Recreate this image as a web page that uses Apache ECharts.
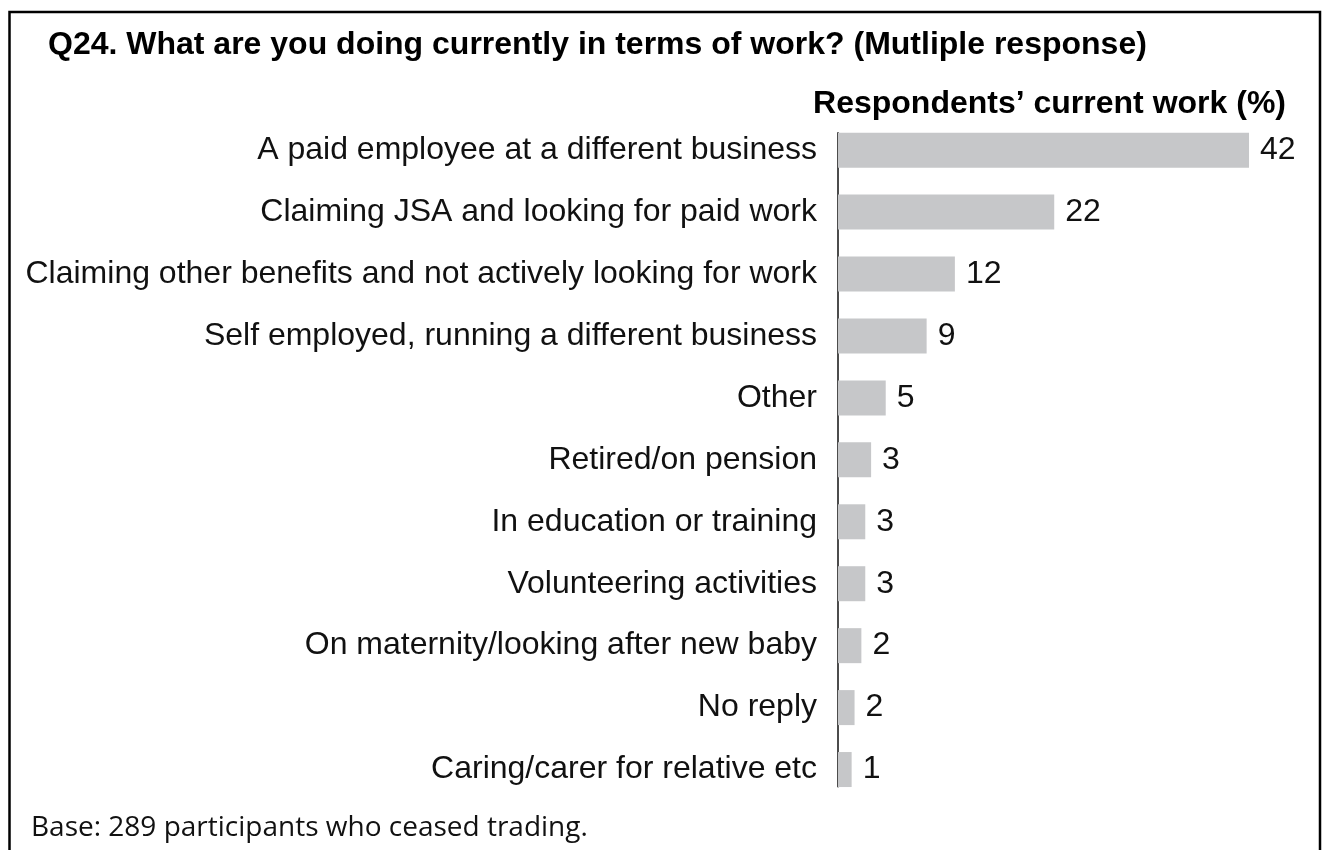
<!DOCTYPE html>
<html>
<head>
<meta charset="utf-8">
<script src="https://cdn.jsdelivr.net/npm/echarts@6/dist/echarts.min.js"></script>
<style>
html,body{margin:0;padding:0;background:#fff;}
#chart{width:1322px;height:850px;}
</style>
</head>
<body>
<div id="chart"></div>
<script>
const titleText = 'Q24. What are you doing currently in terms of work? (Mutliple response)';
const subtitleText = 'Respondents\u2019 current work (%)';
const footerText = 'Base: 289 participants who ceased trading.';
const categories = [
  'A paid employee at a different business',
  'Claiming JSA and looking for paid work',
  'Claiming other benefits and not actively looking for work',
  'Self employed, running a different business',
  'Other',
  'Retired/on pension',
  'In education or training',
  'Volunteering activities',
  'On maternity/looking after new baby',
  'No reply',
  'Caring/carer for relative etc'
];
const values = [42.2, 22.2, 12.0, 9.1, 4.9, 3.4, 2.8, 2.8, 2.4, 1.7, 1.4];

const chart = echarts.init(document.getElementById('chart'), null, {renderer: 'canvas'});
const sans = '"Liberation Sans", Arial, sans-serif';
chart.setOption({
  animation: false,
  backgroundColor: '#fff',
  graphic: [{
    type: 'rect', silent: true,
    shape: {x: 9.5, y: 12, width: 1310.5, height: 1000},
    style: {fill: 'none', stroke: '#000', lineWidth: 2.5}
  }],
  title: [
    {text: titleText, left: 48, top: 29, padding: 0,
     textStyle: {fontFamily: sans, fontSize: 32, fontWeight: 'bold', color: '#000'}},
    {text: subtitleText, right: 36, top: 88.5, padding: 0,
     textStyle: {fontFamily: sans, fontSize: 32, fontWeight: 'bold', color: '#000'}},
    {text: footerText, left: 31, top: 814, padding: 0,
     textStyle: {fontFamily: '"Open Sans", sans-serif', fontSize: 28, fontWeight: 'normal', color: '#111'}}
  ],
  grid: [
    {left: 838, top: 119.2, width: 438.3, height: 681.3},
    {left: 838, top: 132.7, width: 438.3, height: 654}
  ],
  xAxis: [
    {type: 'value', gridIndex: 0, min: 0, max: 45, show: false},
    {type: 'value', gridIndex: 1, min: 0, max: 45, show: false}
  ],
  yAxis: [
    {type: 'category', gridIndex: 0, data: categories, inverse: true,
     axisLine: {show: false}, axisTick: {show: false}, splitLine: {show: false},
     axisLabel: {margin: 21, fontFamily: sans, fontSize: 32, color: '#111'}},
    {type: 'value', gridIndex: 1, min: 0, max: 1,
     axisLine: {show: true, lineStyle: {color: '#111', width: 1.5}},
     axisTick: {show: false}, axisLabel: {show: false}, splitLine: {show: false}}
  ],
  series: [{
    type: 'bar', xAxisIndex: 0, yAxisIndex: 0,
    data: values, barWidth: 35,
    itemStyle: {color: '#c6c7c9'},
    label: {show: true, position: 'right', distance: 11,
            formatter: p => String(Math.round(p.value)),
            fontFamily: sans, fontSize: 32, color: '#111'}
  }]
});
</script>
</body>
</html>
